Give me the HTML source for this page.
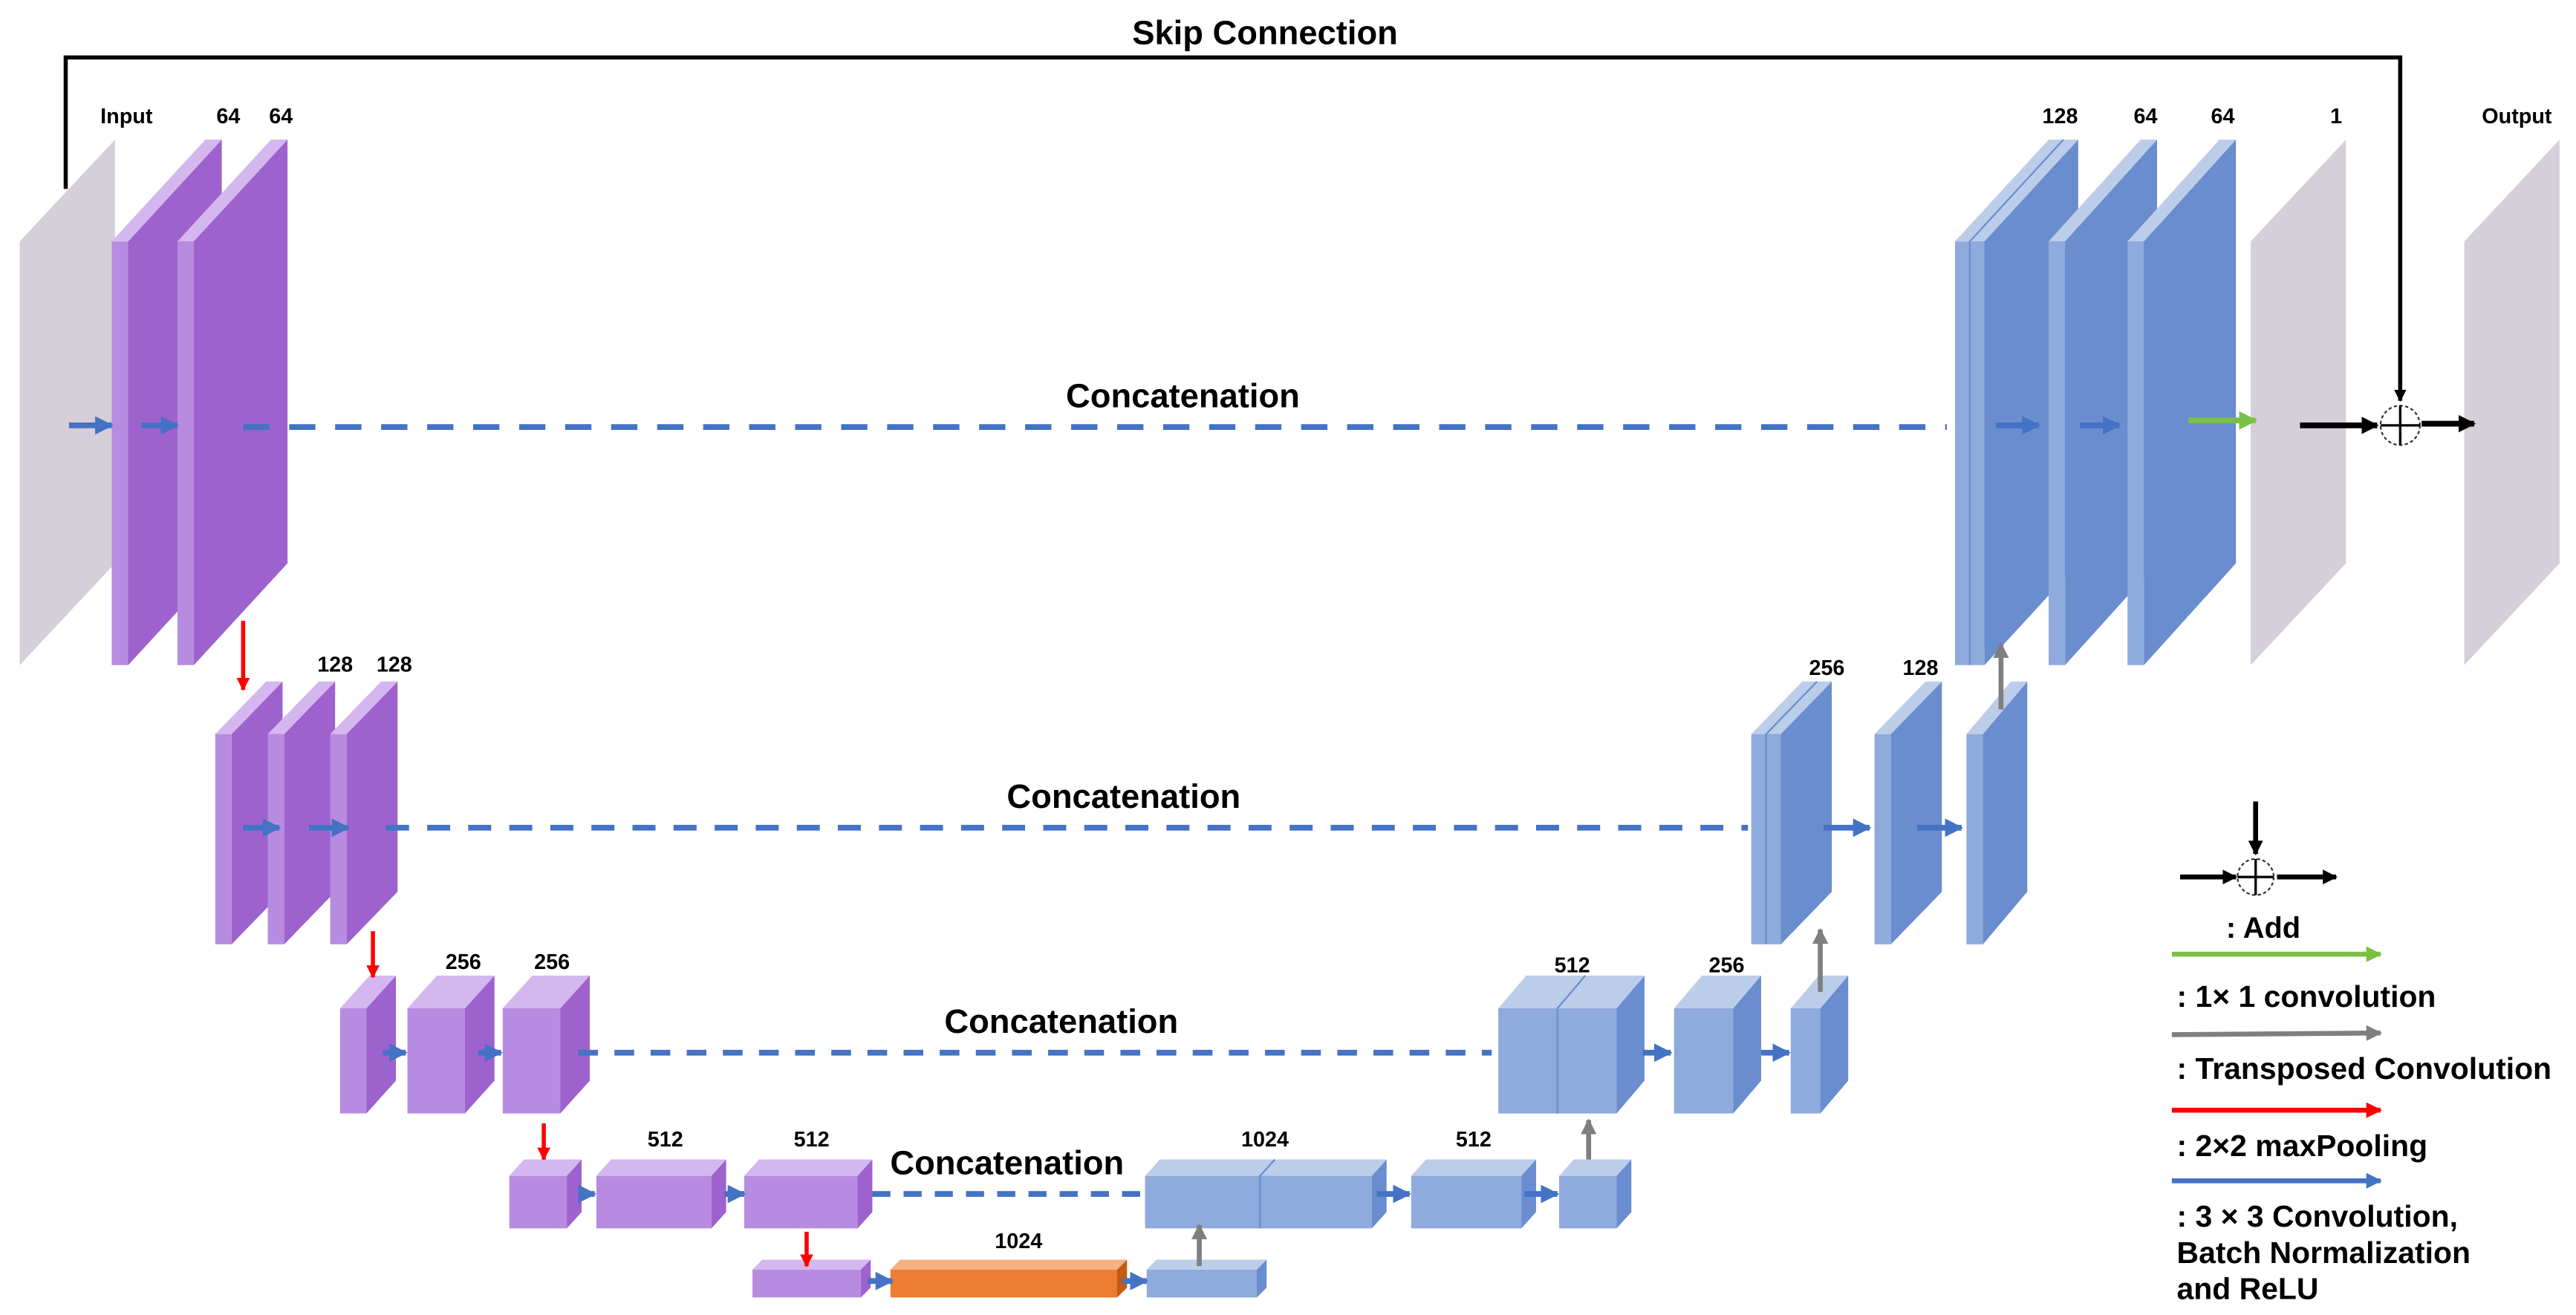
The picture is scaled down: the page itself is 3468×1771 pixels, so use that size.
<!DOCTYPE html>
<html><head><meta charset="utf-8"><style>
html,body{margin:0;padding:0;background:#fff;}
svg{display:block;}
text{font-family:"Liberation Sans",Arial,sans-serif;font-weight:bold;fill:#000;}
</style></head><body>
<svg id="c" width="3468" height="1771" viewBox="0 0 1568 800.7" preserveAspectRatio="none" xmlns="http://www.w3.org/2000/svg">
<defs>
<marker id="mb" viewBox="0 0 10 10" refX="9" refY="5" markerWidth="3.2" markerHeight="3.2" orient="auto"><path d="M0,0L10,5L0,10z" fill="#4472c4"/></marker>
<marker id="mr" viewBox="0 0 10 10" refX="9" refY="5" markerWidth="3.2" markerHeight="3.2" orient="auto"><path d="M0,0L10,5L0,10z" fill="#ff0000"/></marker>
<marker id="mg" viewBox="0 0 10 10" refX="9" refY="5" markerWidth="3.2" markerHeight="3.2" orient="auto"><path d="M0,0L10,5L0,10z" fill="#7f7f7f"/></marker>
<marker id="ml" viewBox="0 0 10 10" refX="9" refY="5" markerWidth="3.2" markerHeight="3.2" orient="auto"><path d="M0,0L10,5L0,10z" fill="#7ac143"/></marker>
<marker id="mk" viewBox="0 0 10 10" refX="9" refY="5" markerWidth="3" markerHeight="3" orient="auto"><path d="M0,0L10,5L0,10z" fill="#000"/></marker>
</defs>
<g id="blocks"></g>
<g id="lines"></g>
<g id="labels"></g>
</svg>
<script>
// channel labels per block position
const leftLabels = ["64","64","128","128","256","256","512","512","1024"];
const rightLabels = ["1024","512","512","256","256","128","128","64","64","1"];
const ns="http://www.w3.org/2000/svg";
const B=document.getElementById('blocks'),L=document.getElementById('lines'),T=document.getElementById('labels');
const pal={p:['#b78ce0','#9e62cf','#d3b7ee'],b:['#8faadc','#6a8dcf','#bccde9'],o:['#ed7d31','#c55a11','#f4b183'],g:['#d5cfd9','#d5cfd9','#d5cfd9']};
function poly(g,pts,fill,name){const p=document.createElementNS(ns,'polygon');p.setAttribute('points',pts.map(a=>a.join(',')).join(' '));p.setAttribute('fill',fill);


g.appendChild(p);return p;}
function block(x,y,w,h,dx,dy,c,name,div){const k=pal[c];const g=document.createElementNS(ns,'g');


B.appendChild(g);
poly(g,[[x,y],[x+w,y],[x+w,y+h],[x,y+h]],k[0],name+'-front');
poly(g,[[x+w,y],[x+w+dx,y-dy],[x+w+dx,y+h-dy],[x+w,y+h]],k[1],name+'-side');
poly(g,[[x,y],[x+dx,y-dy],[x+w+dx,y-dy],[x+w,y]],k[2],name+'-top');
if(div){const p=document.createElementNS(ns,'polyline');p.setAttribute('points',(x)+','+(y+h)+' '+x+','+y+' '+(x+dx)+','+(y-dy));p.setAttribute('fill','none');p.setAttribute('stroke','#6a8dcf');p.setAttribute('stroke-width',1);


g.appendChild(p);}}
function panel(x,y,h,dx,dy,name){poly(B,[[x,y],[x+dx,y-dy],[x+dx,y+h-dy],[x,y+h]],'#d5cfd9',name);}
function line(x1,y1,x2,y2,col,sw,mk,dash,name){const l=document.createElementNS(ns,'line');
[['x1',x1],['y1',y1],['x2',x2],['y2',y2],['stroke',col],['stroke-width',sw]].forEach(a=>l.setAttribute(a[0],a[1]));
if(mk)l.setAttribute('marker-end','url(#'+mk+')');if(dash)l.setAttribute('stroke-dasharray',dash);


L.appendChild(l);}
function txt(x,y,s,fs,name,anchor){const t=document.createElementNS(ns,'text');t.setAttribute('x',x);t.setAttribute('y',y);t.setAttribute('font-size',fs);t.setAttribute('text-anchor',anchor||'middle');t.textContent=s;


T.appendChild(t);}

// Level 1
panel(12,147,258,58,62,'input-panel');
block(68,147,10,258,57,62,'p','enc1-conv1');
block(108,147,10,258,57,62,'p','enc1-conv2');
block(1190,147,9,258,57,62,'b','dec1-concat-a');
block(1199,147,9,258,57,62,'b','dec1-concat-b',true);
block(1247,147,10,258,56,62,'b','dec1-conv1');
block(1295,147,10,258,56,62,'b','dec1-conv2');
panel(1370,147,258,58,62,'output-1ch-panel');
panel(1500,147,258,58,62,'output-panel');
// Level 2
block(131,447,10,128,31,32,'p','enc2-pool');
block(163,447,10,128,31,32,'p','enc2-conv1');
block(201,447,10,128,31,32,'p','enc2-conv2');
block(1066,447,9,128,31,32,'b','dec2-concat-a');
block(1075,447,9,128,31,32,'b','dec2-concat-b',true);
block(1141,447,10,128,31,32,'b','dec2-conv1');
block(1197,447,10,128,27,32,'b','dec2-conv2');
// Level 3
block(207,614,16,64,18,20,'p','enc3-pool');
block(248,614,35,64,18,20,'p','enc3-conv1');
block(306,614,35,64,18,20,'p','enc3-conv2');
block(912,614,36,64,17,20,'b','dec3-concat-a');
block(948,614,36,64,17,20,'b','dec3-concat-b',true);
block(1019,614,36,64,17,20,'b','dec3-conv1');
block(1090,614,18,64,17,20,'b','dec3-conv2');
// Level 4
block(310,716,35,32,9,10,'p','enc4-pool');
block(363,716,70,32,9,10,'p','enc4-conv1');
block(453,716,69,32,9,10,'p','enc4-conv2');
block(697,716,70,32,9,10,'b','dec4-concat-a');
block(767,716,68,32,9,10,'b','dec4-concat-b',true);
block(859,716,67,32,9,10,'b','dec4-conv1');
block(949,716,35,32,9,10,'b','dec4-conv2');
// Level 5
block(458,773,66,17,6,6,'p','bottleneck-pool');
block(542,773,138,17,6,6,'o','bottleneck-conv');
block(698,773,67,17,6,6,'b','bottleneck-up');

// arrows: 3x3 conv (blue)
[[42,259,68],[86,259,108],[1215,259,1241],[1266,259,1290],[148,504,170],[188,504,212],[1110,504,1138],[1167,504,1194],
 [233,641,247],[291,641,305],[1000,641,1017],[1072,641,1089],[352,727,362],[441,727,453],[838,727,858],[928,727,948],[528,780,543],[683,780,698]]
 .forEach((a,i)=>line(a[0],a[1],a[2],a[1],'#4472c4',3.5,'mb',null,'conv-arrow-'+i));
// dashed concatenation
line(148,260,1185,260,'#4472c4',3.5,null,'16 12','concat-line-1');
line(235,504,1064,504,'#4472c4',3.5,null,'14 11','concat-line-2');
line(352,641,908,641,'#4472c4',3.5,null,'12 10','concat-line-3');
line(531,727,695,727,'#4472c4',3.5,null,'11 8','concat-line-4');
// maxpool red
[[148,378,420],[227,567,595],[331,684,706],[491,750,771]].forEach((a,i)=>line(a[0],a[1],a[0],a[2],'#ff0000',2.5,'mr',null,'maxpool-arrow-'+i));
// transposed grey
[[730,771,746],[967,706,682],[1108,604,566],[1218,432,392]].forEach((a,i)=>line(a[0],a[1],a[0],a[2],'#7f7f7f',3,'mg',null,'upconv-arrow-'+i));
// 1x1 green
line(1332,256,1373,256,'#7ac143',3.5,'ml',null,'conv1x1-arrow');
// skip connection
const sk=document.createElementNS(ns,'polyline');sk.setAttribute('points','40,115 40,35 1461,35 1461,244');sk.setAttribute('fill','none');sk.setAttribute('stroke','#000');sk.setAttribute('stroke-width',2.5);sk.setAttribute('marker-end','url(#mk)');


L.appendChild(sk);
line(1400,259,1447,259,'#000',3.5,'mk',null,'add-in-arrow');
line(1474,258,1506,258,'#000',3.5,'mk',null,'add-out-arrow');
function addSym(cx,cy,r,name){const g=document.createElementNS(ns,'g');


L.appendChild(g);
const c=document.createElementNS(ns,'circle');c.setAttribute('cx',cx);c.setAttribute('cy',cy);c.setAttribute('r',r);c.setAttribute('fill','none');c.setAttribute('stroke','#333');c.setAttribute('stroke-width',1);c.setAttribute('stroke-dasharray','2 1.5');g.appendChild(c);
[[cx-r,cy,cx+r,cy],[cx,cy-r,cx,cy+r]].forEach(a=>{const l=document.createElementNS(ns,'line');l.setAttribute('x1',a[0]);l.setAttribute('y1',a[1]);l.setAttribute('x2',a[2]);l.setAttribute('y2',a[3]);l.setAttribute('stroke','#000');l.setAttribute('stroke-width',1.5);g.appendChild(l);});}
addSym(1461,259,12,'add-node');

// labels
txt(770,27,'Skip Connection',20.5,'skip-connection-title');
txt(77,75,'Input',13,'input-label');
txt(139,75,leftLabels[0],13,'label-enc1-a');txt(171,75,leftLabels[1],13,'label-enc1-b');
txt(204,409,leftLabels[2],13,'label-enc2-a');txt(240,409,leftLabels[3],13,'label-enc2-b');
txt(282,590,leftLabels[4],13,'label-enc3-a');txt(336,590,leftLabels[5],13,'label-enc3-b');
txt(405,698,leftLabels[6],13,'label-enc4-a');txt(494,698,leftLabels[7],13,'label-enc4-b');
txt(620,760,leftLabels[8],13,'label-bottleneck');
txt(770,698,rightLabels[0],13,'label-dec4-a');txt(897,698,rightLabels[1],13,'label-dec4-b');
txt(957,592,rightLabels[2],13,'label-dec3-a');txt(1051,592,rightLabels[3],13,'label-dec3-b');
txt(1112,411,rightLabels[4],13,'label-dec2-a');txt(1169,411,rightLabels[5],13,'label-dec2-b');
txt(1254,75,rightLabels[6],13,'label-dec1-a');txt(1306,75,rightLabels[7],13,'label-dec1-b');txt(1353,75,rightLabels[8],13,'label-dec1-c');
txt(1422,75,rightLabels[9],13,'label-1ch');
txt(1532,75,'Output',13,'output-label');
txt(720,248,'Concatenation',20.5,'concat-title-1');
txt(684,492,'Concatenation',20.5,'concat-title-2');
txt(646,629,'Concatenation',20.5,'concat-title-3');
txt(613,715,'Concatenation',20.5,'concat-title-4');

// legend
line(1373,488,1373,520,'#000',3,'mk',null,'legend-add-down');
line(1327,534,1361,534,'#000',3,'mk',null,'legend-add-in');
line(1386,534,1422,534,'#000',3,'mk',null,'legend-add-out');
addSym(1373,534,11,'legend-add-node');
txt(1355,571,': Add',18,'legend-add-text','start');
line(1322,581,1449,581,'#7ac143',3,'ml',null,'legend-1x1-line');
txt(1325,613,': 1\u00d7 1 convolution',18.5,'legend-1x1-text','start');
line(1322,630,1449,629,'#7f7f7f',3,'mg',null,'legend-transposed-line');
txt(1325,657,': Transposed Convolution',18.5,'legend-transposed-text','start');
line(1322,676,1449,676,'#ff0000',3,'mr',null,'legend-maxpool-line');
txt(1325,704,': 2\u00d72 maxPooling',18.5,'legend-maxpool-text','start');
line(1322,719,1449,719,'#4472c4',3,'mb',null,'legend-conv-line');
txt(1325,747,': 3 \u00d7 3 Convolution,',18.5,'legend-conv-text-1','start');
txt(1325,769,'Batch Normalization',18.5,'legend-conv-text-2','start');
txt(1325,791,'and ReLU',18.5,'legend-conv-text-3','start');
</script>
</body></html>
